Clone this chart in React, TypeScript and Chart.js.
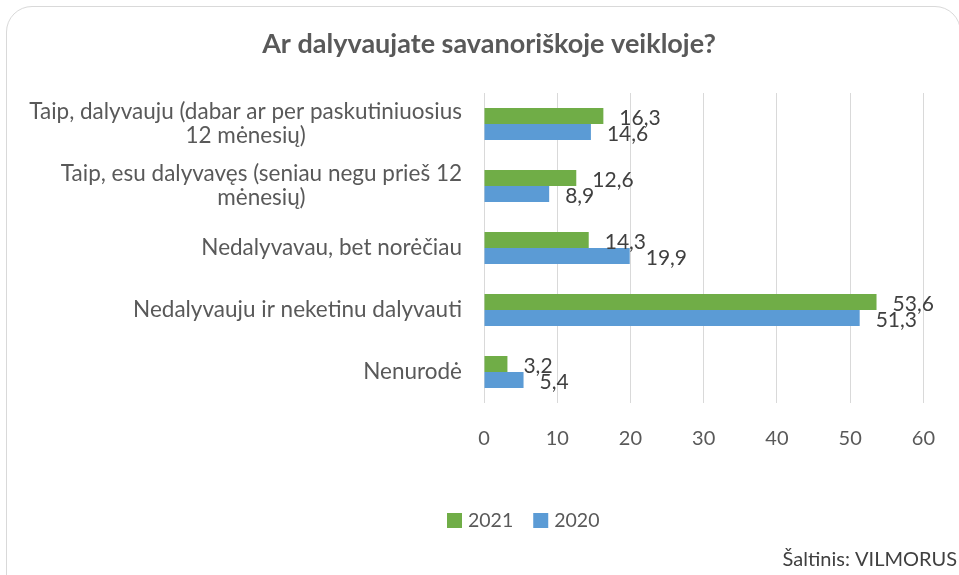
import React, { useEffect, useRef } from "react";
import { Chart, registerables } from "chart.js";

Chart.register(...registerables);

const title = "Ar dalyvaujate savanoriškoje veikloje?";
const categories: string[][] = [
  ["Taip, dalyvauju (dabar ar per paskutiniuosius", "12 mėnesių)"],
  ["Taip, esu dalyvavęs (seniau negu prieš 12", "mėnesių)"],
  ["Nedalyvavau, bet norėčiau"],
  ["Nedalyvauju ir neketinu dalyvauti"],
  ["Nenurodė"],
];
const seriesNames = ["2021", "2020"];
const values2021 = [16.3, 12.6, 14.3, 53.6, 3.2];
const values2020 = [14.6, 8.9, 19.9, 51.3, 5.4];
const xTicks = [0, 10, 20, 30, 40, 50, 60];
const source = "Šaltinis: VILMORUS";

const GREEN = "#70ad47";
const BLUE = "#5b9bd5";
const FONT = "Lato, 'Open Sans', sans-serif";

const fmt = (v: number) => v.toFixed(1).replace(".", ",");

const customDraw = {
  id: "customDraw",
  afterDraw(chart: any) {
    const ctx = chart.ctx as CanvasRenderingContext2D;
    const yScale = chart.scales.y;
    ctx.save();
    // title
    ctx.fillStyle = "#595959";
    ctx.font = `bold 27px ${FONT}`;
    ctx.textAlign = "center";
    ctx.textBaseline = "middle";
    ctx.fillText(title, 489, 44);

    // y labels
    ctx.font = `22.5px ${FONT}`;
    ctx.fillStyle = "#595959";
    const lh = 24;
    categories.forEach((lines, i) => {
      const cy = yScale.getPixelForValue(i);
      const w = Math.max(...lines.map((l) => ctx.measureText(l).width));
      const cx = 462 - w / 2;
      lines.forEach((l, j) => {
        ctx.fillText(l, cx, cy - ((lines.length - 1) * lh) / 2 + j * lh);
      });
    });

    // data labels
    ctx.fillStyle = "#404040";
    ctx.textAlign = "left";
    ctx.font = `21px ${FONT}`;
    chart.data.datasets.forEach((ds: any, di: number) => {
      const meta = chart.getDatasetMeta(di);
      meta.data.forEach((bar: any, i: number) => {
        ctx.fillText(fmt(ds.data[i]), bar.x + 16, bar.y + 2);
      });
    });

    // legend
    const items = [
      { name: seriesNames[0], color: GREEN },
      { name: seriesNames[1], color: BLUE },
    ];
    ctx.font = `19.5px ${FONT}`;
    let x = 447;
    const ly = 520;
    items.forEach((it) => {
      ctx.fillStyle = it.color;
      ctx.fillRect(x, ly - 7, 15, 15);
      ctx.fillStyle = "#595959";
      ctx.textAlign = "left";
      ctx.fillText(it.name, x + 21, ly + 1);
      x += 21 + ctx.measureText(it.name).width + 20;
    });

    // source
    ctx.fillStyle = "#404040";
    ctx.font = `20px ${FONT}`;
    ctx.textAlign = "right";
    ctx.fillText(source, 957, 560);
    ctx.restore();
  },
};

export default function App() {
  const ref = useRef<HTMLCanvasElement>(null);
  useEffect(() => {
    if (!ref.current) return;
    const chart = new Chart(ref.current, {
      type: "bar",
      data: {
        labels: categories.map((c) => c.join(" ")),
        datasets: [
          { label: seriesNames[0], data: values2021, backgroundColor: GREEN },
          { label: seriesNames[1], data: values2020, backgroundColor: BLUE },
        ],
      },
      options: {
        indexAxis: "y",
        animation: false,
        responsive: false,
        maintainAspectRatio: false,
        layout: { padding: { top: 93, right: 32, left: 0, bottom: 0 } },
        datasets: { bar: { categoryPercentage: 0.516, barPercentage: 1 } },
        plugins: {
          legend: { display: false },
          title: { display: false },
          tooltip: { enabled: false },
        },
        scales: {
          x: {
            min: 0,
            max: 60,
            afterBuildTicks: (scale: any) => {
              scale.ticks = xTicks.map((v) => ({ value: v }));
            },
            afterFit: (scale: any) => {
              scale.height = 172;
            },
            grid: { color: "#d9d9d9", lineWidth: 1, drawTicks: false },
            border: { display: false },
            ticks: {
              padding: 24,
              color: "#595959",
              font: { family: FONT, size: 20 },
            },
          },
          y: {
            afterFit: (scale: any) => {
              scale.width = 484;
            },
            grid: { display: false },
            border: { display: false },
            ticks: { display: false },
          },
        },
      },
      plugins: [customDraw],
    });
    return () => chart.destroy();
  }, []);

  return (
    <div style={{ position: "fixed", left: 0, top: 0, width: 959, height: 575, overflow: "hidden", background: "#fff" }}>
      <div
        style={{
          position: "absolute",
          left: 6,
          top: 6,
          width: 955,
          height: 600,
          border: "1px solid #d9d9d9",
          borderRadius: 26,
          boxSizing: "border-box",
        }}
      />
      <canvas ref={ref} width={959} height={575} style={{ position: "absolute", left: 0, top: 0 }} />
    </div>
  );
}
